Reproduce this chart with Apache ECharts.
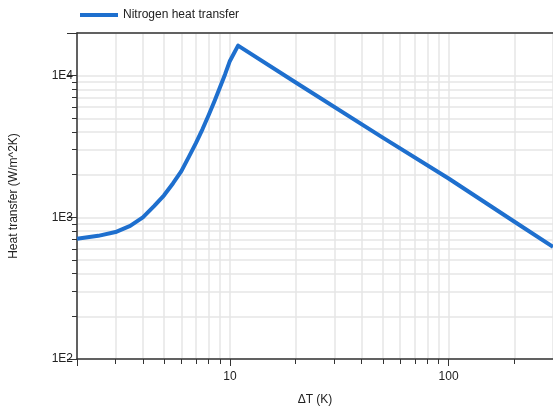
<!DOCTYPE html>
<html><head><meta charset="utf-8">
<script src="https://cdn.jsdelivr.net/npm/echarts@6/dist/echarts.min.js"></script>
<style>html,body{margin:0;padding:0;background:#fff}#c{width:553px;height:415px}</style>
</head><body><div id="c"></div>
<script>
const seriesName = 'Nitrogen heat transfer';
const deltaT = [2, 2.5, 3, 3.5, 4, 4.5, 5, 5.5, 6, 6.5, 7, 7.5, 8, 8.5, 9, 9.5, 10, 10.9, 20, 50, 100, 200, 300];
const heatTransfer = [705, 740, 787, 870, 1000, 1200, 1430, 1740, 2120, 2680, 3350, 4200, 5270, 6600, 8250, 10200, 12700, 16300, 8950, 3650, 1880, 930, 618];
const xTitle = 'ΔT (K)';
const yTitle = 'Heat transfer (W/m^2K)';

const chart = echarts.init(document.getElementById('c'));
const font = 'Liberation Sans, Arial, sans-serif';
chart.setOption({
  animation: false,
  textStyle: {fontFamily: font},
  legend: {
    data: [seriesName], left: 75, top: 4, itemWidth: 38, itemHeight: 4, itemGap: 8,
    icon: 'rect',
    textStyle: {fontSize: 12, color: '#222', fontFamily: font}
  },
  grid: {left: 77, right: -3, top: 33, bottom: 56},
  xAxis: [{
    type: 'log', logBase: 10, min: 2, max: 300,
    name: xTitle, nameLocation: 'middle', nameGap: 35,
    nameTextStyle: {fontSize: 12, color: '#222'},
    axisLine: {lineStyle: {color: '#333', width: 1.5}},
    axisTick: {show: true, length: 7, lineStyle: {color: '#333'}},
    minorTick: {show: true, splitNumber: 9, length: 5, lineStyle: {color: '#333'}},
    splitLine: {show: true, lineStyle: {color: '#e6e6e6', width: 1.5}},
    minorSplitLine: {show: true, lineStyle: {color: '#e6e6e6', width: 1.5}},
    axisLabel: {color: '#222', fontSize: 12, margin: 12, showMinLabel: false, showMaxLabel: false}
  }, {
    type: 'log', min: 2, max: 300, position: 'top',
    axisLine: {show: true, lineStyle: {color: '#333', width: 1.5}},
    axisTick: {show: false}, axisLabel: {show: false}, splitLine: {show: false}
  }],
  yAxis: {
    type: 'log', logBase: 10, min: 100, max: 20000,
    name: yTitle, nameLocation: 'middle', nameGap: 57,
    nameTextStyle: {fontSize: 12, color: '#222'},
    axisLine: {show: true, lineStyle: {color: '#333', width: 1.5}},
    axisTick: {show: true, length: 10, lineStyle: {color: '#333'}},
    minorTick: {show: true, splitNumber: 9, length: 5, lineStyle: {color: '#333'}},
    splitLine: {show: true, lineStyle: {color: '#e6e6e6', width: 1.5}},
    minorSplitLine: {show: true, lineStyle: {color: '#e6e6e6', width: 1.5}},
    axisLabel: {color: '#222', fontSize: 12, margin: 4, showMaxLabel: false,
      formatter: v => '1E' + Math.round(Math.log10(v))}
  },
  series: [{
    name: seriesName, type: 'line', xAxisIndex: 0,
    data: deltaT.map((x, i) => [x, heatTransfer[i]]),
    showSymbol: false, smooth: false,
    lineStyle: {color: '#1e6fce', width: 4, join: 'round'},
    itemStyle: {color: '#1e6fce'}
  }]
});
</script></body></html>
